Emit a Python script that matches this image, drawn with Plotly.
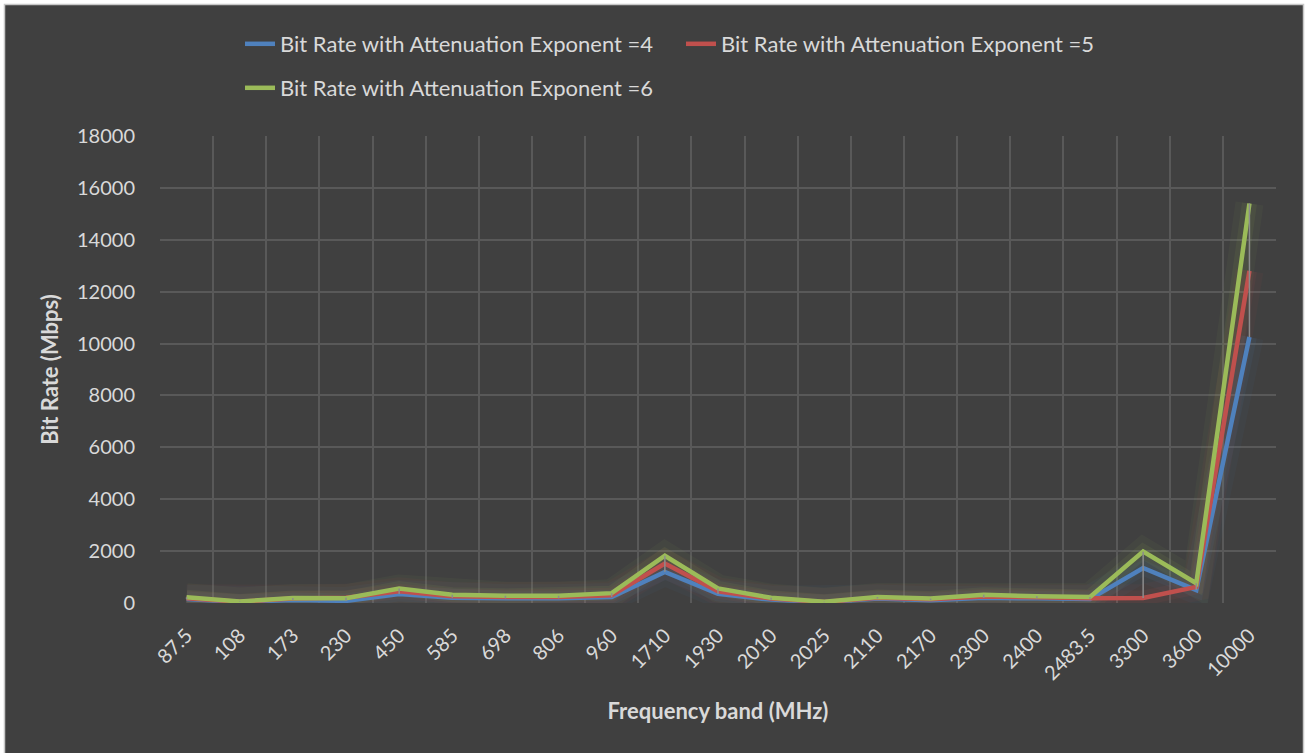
import plotly.graph_objects as go

# Frequency bands (MHz) and bit rates (Mbps) for three attenuation exponents
bands = ["87.5", "108", "173", "230", "450", "585", "698", "806", "960", "1710",
         "1930", "2010", "2025", "2110", "2170", "2300", "2400", "2483.5", "3300",
         "3600", "10000"]
rate_exp4 = [150, 40, 120, 80, 350, 200, 180, 180, 230, 1200,
             350, 130, 30, 170, 110, 200, 180, 150, 1350,
             500, 10250]
rate_exp5 = [180, 50, 170, 200, 450, 260, 230, 230, 300, 1520,
             450, 170, 40, 200, 140, 250, 220, 180, 190,
             620, 12800]
rate_exp6 = [220, 60, 190, 180, 560, 320, 280, 280, 380, 1820,
             560, 200, 50, 230, 170, 320, 260, 230, 1980,
             760, 15400]

series = [
    ("Bit Rate with Attenuation Exponent =4", rate_exp4, "#4F81BD", "legend"),
    ("Bit Rate with Attenuation Exponent =5", rate_exp5, "#C0504D", "legend"),
    ("Bit Rate with Attenuation Exponent =6", rate_exp6, "#9BBB59", "legend2"),
]

FONT = "Lato"
TEXT = "#d9d9d9"
BG = "#404040"

fig = go.Figure()

# soft glow under each line
for width, alpha in ((28, 0.05), (15, 0.08)):
    for name, vals, color, lg in series:
        fig.add_trace(go.Scatter(
            x=bands, y=vals, mode="lines",
            line=dict(color=color, width=width), opacity=alpha,
            showlegend=False, hoverinfo="skip"))

for name, vals, color, lg in series:
    fig.add_trace(go.Scatter(
        x=bands, y=vals, mode="lines", name=name, legend=lg,
        line=dict(color=color, width=4.5)))

# high-low lines joining the lowest and highest value of each band
hl_x, hl_y = [], []
for i, b in enumerate(bands):
    vals = [rate_exp4[i], rate_exp5[i], rate_exp6[i]]
    hl_x += [b, b, None]
    hl_y += [min(vals), max(vals), None]
fig.add_trace(go.Scatter(
    x=hl_x, y=hl_y, mode="lines", line=dict(color="#8c8c8c", width=1.5),
    showlegend=False, hoverinfo="skip"))

# plot area: x 160..1276, y 136..603 (px)
L, R, T, B = 160, 30, 136, 150
W, H = 1306, 753
pw, ph = W - L - R, H - T - B

def px_x(p):
    return (p - L) / pw

def px_y(p):
    return (H - B - p) / ph

fig.add_shape(type="rect", xref="paper", yref="paper", layer="below",
              x0=px_x(4.5), x1=px_x(1303.5), y0=px_y(770), y1=px_y(4.5),
              fillcolor=BG, line=dict(color="#c8c8c8", width=1.5))

legend_common = dict(
    orientation="h", xanchor="left", yanchor="middle",
    bgcolor="rgba(0,0,0,0)", font=dict(family=FONT, size=22, color=TEXT),
    entrywidth=396, entrywidthmode="pixels", itemwidth=30,
)

fig.update_layout(
    width=W, height=H,
    margin=dict(l=L, r=R, t=T, b=B),
    paper_bgcolor="white", plot_bgcolor="rgba(0,0,0,0)",
    font=dict(family=FONT, color=TEXT),
    legend=dict(x=px_x(240), y=px_y(44), **legend_common),
    legend2=dict(x=px_x(240), y=px_y(88), **legend_common),
    xaxis=dict(
        type="category", tickson="boundaries", ticks="",
        showgrid=True, gridcolor="#595959", gridwidth=1.5,
        tickangle=-45, ticklabelstandoff=16,
        tickfont=dict(family=FONT, size=20, color=TEXT),
        title=dict(text="<b>Frequency band (MHz)</b>",
                   font=dict(family=FONT, size=22, color=TEXT), standoff=20),
        showline=False, zeroline=False, range=[-0.5, len(bands) - 0.5],
    ),
    yaxis=dict(
        range=[0, 18000], dtick=2000, tick0=0, tickformat="d",
        showgrid=True, gridcolor="#595959", gridwidth=1.5,
        zeroline=False, showline=False, ticks="",
        ticklabelstandoff=24,
        tickfont=dict(family=FONT, size=20, color=TEXT),
        title=dict(text="<b>Bit Rate (Mbps)</b>",
                   font=dict(family=FONT, size=22, color=TEXT), standoff=12),
    ),
)

fig.write_html("out.html")
